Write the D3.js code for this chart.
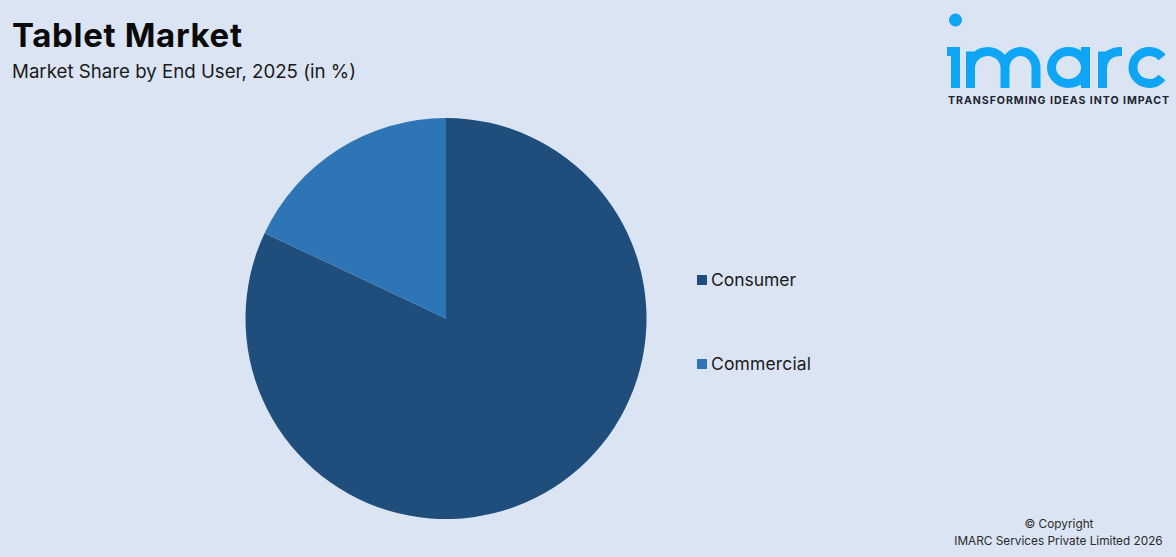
<!DOCTYPE html>
<html>
<head>
<meta charset="utf-8">
<script src="https://cdn.jsdelivr.net/npm/d3@7"></script>
<style>
html, body { margin: 0; padding: 0; background: #dae4f3; }
svg { display: block; }
text { font-family: "Inter", "Noto Sans", sans-serif; }
</style>
</head>
<body>
<div id="chart"></div>
<script>
// values
var categories = ["Consumer", "Commercial"];
var shares = [82, 18];
var colors = ["#1f4e7c", "#2e75b5"];

var width = 1176, height = 557;
var cx = 446, cy = 318.5, radius = 200.5;

var svg = d3.select("#chart").append("svg")
    .attr("width", width)
    .attr("height", height);

svg.append("rect").attr("width", width).attr("height", height).attr("fill", "#dae4f3");

// titles
svg.append("text").attr("x", 12).attr("y", 47)
    .attr("font-size", 33).attr("font-weight", 700).attr("fill", "#0a0a0a")
    .attr("textLength", 230).attr("lengthAdjust", "spacing")
    .text("Tablet Market");
svg.append("text").attr("x", 12).attr("y", 78)
    .attr("font-size", 18.7).attr("fill", "#1a1a1a")
    .attr("textLength", 344).attr("lengthAdjust", "spacing")
    .text("Market Share by End User, 2025 (in %)");

// pie
var pie = d3.pie().sort(null).value(function(d) { return d; });
var arc = d3.arc().innerRadius(0).outerRadius(radius);

svg.append("g").attr("transform", "translate(" + cx + "," + cy + ")")
    .selectAll("path")
    .data(pie(shares))
    .enter().append("path")
    .attr("d", arc)
    .attr("fill", function(d, i) { return colors[i]; });

// legend
var legendY = d3.scalePoint().domain(categories).range([280, 364]);
var legend = svg.append("g").selectAll("g")
    .data(categories)
    .enter().append("g")
    .attr("transform", function(d) { return "translate(697," + legendY(d) + ")"; });
legend.append("rect")
    .attr("x", 0).attr("y", -5)
    .attr("width", 10).attr("height", 10)
    .attr("fill", function(d, i) { return colors[i]; });
legend.append("text")
    .attr("x", 14).attr("y", 6)
    .attr("font-size", 17.5).attr("fill", "#1a1a1a")
    .attr("textLength", function(d, i) { return [85, 100][i]; })
    .attr("lengthAdjust", "spacing")
    .text(function(d) { return d; });

// logo
var logo = svg.append("g");
var blue = "#0ea5f5";
logo.append("circle").attr("cx", 955.5).attr("cy", 20).attr("r", 6.5).attr("fill", blue);
logo.append("path")
    .attr("fill", "none").attr("stroke", blue).attr("stroke-width", 9)
    .attr("d", "M947 51.5H955.5V88"
        + "M970.5 88V51.5"
        + "M970.5 68A17.2 16.5 0 0 1 1005 68V88"
        + "M1005 68A15.5 16.5 0 0 1 1036 68V88"
        + "M1085.5 67.5A17 16 0 1 1 1051.5 67.5A17 16 0 1 1 1085.5 67.5M1085.5 47V88"
        + "M1102.5 88V51.5M1102.5 70Q1102.5 51.5 1122 51.5"
        + "M1162 57.5A16.3 16 0 1 0 1162 77.5");
logo.append("text").attr("x", 948).attr("y", 104)
    .attr("font-size", 10.6).attr("font-weight", 700).attr("fill", "#1a2530")
    .attr("textLength", 221).attr("lengthAdjust", "spacing")
    .text("TRANSFORMING IDEAS INTO IMPACT");

// copyright
svg.append("text").attr("x", 1059).attr("y", 528)
    .attr("text-anchor", "middle").attr("font-size", 11.8).attr("fill", "#2a2a2a")
    .text("\u00a9 Copyright");
svg.append("text").attr("x", 1058.5).attr("y", 545)
    .attr("text-anchor", "middle").attr("font-size", 11.8).attr("fill", "#2a2a2a")
    .text("IMARC Services Private Limited 2026");
</script>
</body>
</html>
